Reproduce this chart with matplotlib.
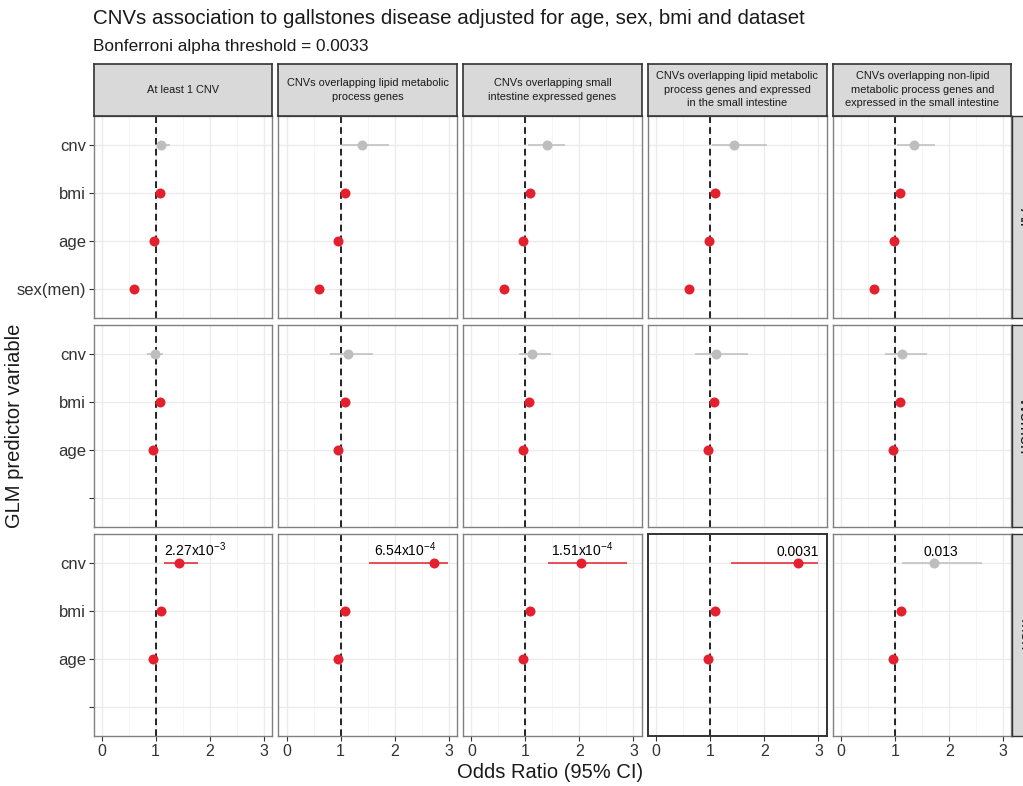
import matplotlib
matplotlib.use('Agg')
import matplotlib.pyplot as plt

plt.rcParams['font.family'] = ['Liberation Sans', 'DejaVu Sans']
plt.rcParams['mathtext.fontset'] = 'custom'
plt.rcParams['mathtext.rm'] = 'Liberation Sans'
plt.rcParams['mathtext.it'] = 'Liberation Sans:italic'

# CNV sets (columns) and groups (rows)
cnv_sets = ['At least 1 CNV',
            'CNVs overlapping lipid metabolic\nprocess genes',
            'CNVs overlapping small\nintestine expressed genes',
            'CNVs overlapping lipid metabolic\nprocess genes and expressed\nin the small intestine',
            'CNVs overlapping non-lipid\nmetabolic process genes and\nexpressed in the small intestine']
groups = ['All', 'Women', 'Men']
predictors_all = ['cnv', 'bmi', 'age', 'sex(men)']
predictors_sex = ['cnv', 'bmi', 'age', '']

# All
cnv_or_all = [1.10, 1.40, 1.39, 1.43, 1.34]
cnv_lo_all = [1.02, 1.03, 1.04, 1.03, 1.03]
cnv_hi_all = [1.26, 1.89, 1.74, 2.04, 1.74]
bmi_or_all = [1.08, 1.08, 1.09, 1.08, 1.09]
age_or_all = [0.97, 0.96, 0.96, 0.97, 0.97]
sex_or_all = [0.60, 0.60, 0.60, 0.60, 0.60]
cnv_sig_all = [False, False, False, False, False]

# Women
cnv_or_w = [0.98, 1.13, 1.13, 1.10, 1.13]
cnv_lo_w = [0.84, 0.80, 0.88, 0.72, 0.81]
cnv_hi_w = [1.14, 1.61, 1.48, 1.69, 1.58]
bmi_or_w = [1.08, 1.08, 1.07, 1.07, 1.08]
age_or_w = [0.96, 0.96, 0.95, 0.96, 0.96]
cnv_sig_w = [False, False, False, False, False]

# Men
cnv_or_m = [1.43, 2.73, 2.02, 2.63, 1.71]
cnv_lo_m = [1.15, 1.53, 1.41, 1.39, 1.12]
cnv_hi_m = [1.79, 2.99, 2.88, 2.99, 2.60]
bmi_or_m = [1.10, 1.09, 1.09, 1.09, 1.10]
age_or_m = [0.96, 0.96, 0.96, 0.96, 0.96]
cnv_p_m = [2.27e-3, 6.54e-4, 1.51e-4, 0.0031, 0.013]
cnv_p_labels = [r'$\mathregular{2.27x10^{-3}}$', r'$\mathregular{6.54x10^{-4}}$',
                r'$\mathregular{1.51x10^{-4}}$', '0.0031', '0.013']
label_x = [1.73, 2.19, 2.04, 2.62, 1.84]

alpha = 0.0033
cnv_sig_m = [p < alpha for p in cnv_p_m]

RED = '#E5202E'
GREY = '#BEBEBE'

rows = [
    dict(pred=predictors_all, cnv=(cnv_or_all, cnv_lo_all, cnv_hi_all), sig=cnv_sig_all,
         cov=[bmi_or_all, age_or_all, sex_or_all]),
    dict(pred=predictors_sex, cnv=(cnv_or_w, cnv_lo_w, cnv_hi_w), sig=cnv_sig_w,
         cov=[bmi_or_w, age_or_w]),
    dict(pred=predictors_sex, cnv=(cnv_or_m, cnv_lo_m, cnv_hi_m), sig=cnv_sig_m,
         cov=[bmi_or_m, age_or_m]),
]

W, H = 1023, 786
fig = plt.figure(figsize=(W / 100, H / 100), dpi=100)


def px_axes(l, t, r, b):
    return fig.add_axes([l / W, 1 - b / H, (r - l) / W, (b - t) / H])


left0, col_step, pw = 93.5, 184.9, 178.3
top0, row_step, ph = 116.3, 208.8, 202.0

for i, row in enumerate(rows):
    t = top0 + i * row_step
    for j in range(5):
        l = left0 + j * col_step
        ax = px_axes(l, t, l + pw, t + ph)
        ax.set_xlim(-0.15, 3.15)
        ax.set_ylim(4.6, 0.4)
        ax.set_xticks([0, 1, 2, 3])
        ax.set_xticks([0.5, 1.5, 2.5], minor=True)
        ax.set_yticks([1, 2, 3, 4])
        ax.set_yticklabels(row['pred'])
        ax.grid(which='major', color='#EBEBEB', lw=1.0)
        ax.grid(which='minor', axis='x', color='#F4F4F4', lw=0.6)
        ax.set_axisbelow(True)
        ax.tick_params(which='minor', length=0)
        ax.tick_params(which='major', length=3.5, color='#333333', labelcolor='#333333',
                       width=0.8)
        ax.tick_params(axis='x', labelsize=11.5, pad=2)
        ax.tick_params(axis='y', labelsize=12, pad=2)
        if j != 0:
            ax.tick_params(axis='y', left=False, labelleft=False)
        if i != 2:
            ax.tick_params(axis='x', bottom=False, labelbottom=False)

        highlight = (i == 2 and j == 3)
        for s in ax.spines.values():
            s.set_color('#333333' if highlight else '#808080')
            s.set_linewidth(1.4 if highlight else 1.0)

        ax.axvline(1, color='black', ls=(0, (4, 2.5)), lw=1.2, zorder=2)

        o, lo, hi = row['cnv']
        c = RED if row['sig'][j] else GREY
        ax.hlines(1, lo[j], hi[j], color=c, lw=1.1, zorder=3)
        ax.plot(o[j], 1, 'o', color=c, ms=7.2, mec='none', zorder=4)
        for k, cov in enumerate(row['cov']):
            ax.plot(cov[j], k + 2, 'o', color=RED, ms=7.2, mec='none', zorder=4)

        if i == 2:
            ax.text(label_x[j], 0.86, cnv_p_labels[j], ha='center', va='baseline',
                    fontsize=10, color='black')

    # right strip (cut by figure edge, as in the original)
    sax = px_axes(1011.8, t, 1036, t + ph)
    sax.set_facecolor('#D9D9D9')
    sax.set_xticks([])
    sax.set_yticks([])
    for s in sax.spines.values():
        s.set_color('#333333')
        s.set_linewidth(1.0)
    sax.text((1016.5 - 1011.8) / (1036 - 1011.8), 0.5, groups[i], rotation=-90,
             ha='left', va='center', fontsize=12, color='#1A1A1A', transform=sax.transAxes)

# top strips
for j in range(5):
    l = left0 + j * col_step
    sax = px_axes(l, 63.5, l + pw, top0)
    sax.set_facecolor('#D9D9D9')
    sax.set_xticks([])
    sax.set_yticks([])
    for s in sax.spines.values():
        s.set_color('#333333')
        s.set_linewidth(1.2)
    sax.text(0.5, 0.5, cnv_sets[j], ha='center', va='center', fontsize=7.9,
             color='#1A1A1A', linespacing=1.45, transform=sax.transAxes)

fig.text(93 / W, 1 - 18 / H, 'CNVs association to gallstones disease adjusted for age, sex, bmi and dataset',
         fontsize=14.8, va='center', ha='left', color='#1A1A1A')
fig.text(93 / W, 1 - 46 / H, 'Bonferroni alpha threshold = 0.0033',
         fontsize=12.4, va='center', ha='left', color='#1A1A1A')
fig.text(550 / W, 1 - 773 / H, 'Odds Ratio (95% CI)', fontsize=14.5, ha='center', va='center',
         color='#1A1A1A')
fig.text(15 / W, 1 - 426 / H, 'GLM predictor variable', fontsize=14.5, ha='center', va='center',
         rotation=90, color='#1A1A1A')

fig.savefig('out.png', dpi=100, facecolor='white')
